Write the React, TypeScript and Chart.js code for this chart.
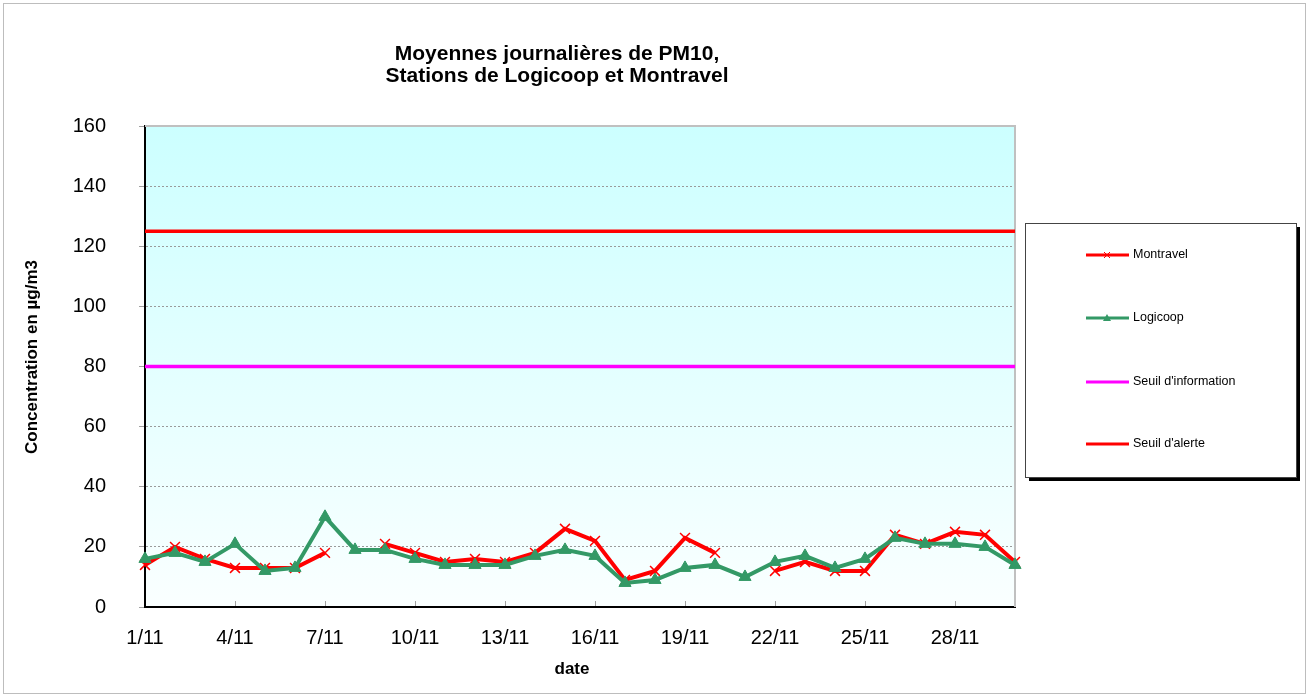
import React, { useEffect, useRef } from 'react';
import { Chart, registerables } from 'chart.js';

Chart.register(...registerables);

const dates = [
  '1/11', '2/11', '3/11', '4/11', '5/11', '6/11', '7/11', '8/11', '9/11', '10/11',
  '11/11', '12/11', '13/11', '14/11', '15/11', '16/11', '17/11', '18/11', '19/11', '20/11',
  '21/11', '22/11', '23/11', '24/11', '25/11', '26/11', '27/11', '28/11', '29/11', '30/11',
];

const montravel = [
  14, 20, 16, 13, 13, 13, 18, null, 21, 18,
  15, 16, 15, 18, 26, 22, 9, 12, 23, 18,
  null, 12, 15, 12, 12, 24, 21, 25, 24, 15,
];

const logicoop = [
  16, 18, 15, 21, 12, 13, 30, 19, 19, 16,
  14, 14, 14, 17, 19, 17, 8, 9, 13, 14,
  10, 15, 17, 13, 16, 23, 21, 21, 20, 14,
];

const seuilInformation = 80;
const seuilAlerte = 125;

const titleLines = ['Moyennes journalières de PM10,', 'Stations de Logicoop et Montravel'];
const yTitle = 'Concentration en µg/m3';
const xTitle = 'date';

const FONT = '"Liberation Sans", Arial, sans-serif';

const decorPlugin = {
  id: 'decor',
  beforeDraw(chart: any) {
    const { ctx, chartArea: a, width, height } = chart;
    ctx.save();
    ctx.fillStyle = '#ffffff';
    ctx.fillRect(0, 0, width, height);
    ctx.strokeStyle = '#bdbdbd';
    ctx.lineWidth = 1;
    ctx.strokeRect(3.5, 3.5, width - 7, height - 7);
    const g = ctx.createLinearGradient(0, a.top, 0, a.bottom);
    g.addColorStop(0, '#CCFFFF');
    g.addColorStop(1, '#FAFFFF');
    ctx.fillStyle = g;
    ctx.fillRect(a.left, a.top, a.right - a.left, a.bottom - a.top);
    ctx.restore();
  },
  beforeDatasetsDraw(chart: any) {
    const { ctx, chartArea: a } = chart;
    const xs = chart.scales.x;
    ctx.save();
    ctx.strokeStyle = '#c0c0c0';
    ctx.lineWidth = 2;
    ctx.beginPath();
    ctx.moveTo(a.left, a.top);
    ctx.lineTo(a.right, a.top);
    ctx.lineTo(a.right, a.bottom);
    ctx.stroke();
    ctx.strokeStyle = '#a0a0a0';
    ctx.lineWidth = 1;
    for (let i = 3; i < dates.length; i += 3) {
      const px = Math.round(xs.getPixelForValue(i)) + 0.5;
      ctx.beginPath();
      ctx.moveTo(px, a.bottom - 1);
      ctx.lineTo(px, a.bottom - 6);
      ctx.stroke();
    }
    ctx.restore();
  },
  afterDraw(chart: any) {
    const { ctx } = chart;
    ctx.save();
    // title
    ctx.fillStyle = '#000';
    ctx.font = `bold 21px ${FONT}`;
    ctx.textAlign = 'center';
    ctx.textBaseline = 'alphabetic';
    ctx.fillText(titleLines[0], 557, 60);
    ctx.fillText(titleLines[1], 557, 82);

    // y axis title
    ctx.save();
    ctx.translate(32, 357);
    ctx.rotate(-Math.PI / 2);
    ctx.font = `bold 17px ${FONT}`;
    ctx.textAlign = 'center';
    ctx.textBaseline = 'middle';
    ctx.fillText(yTitle, 0, 0);
    ctx.restore();

    // x axis title
    ctx.font = `bold 17px ${FONT}`;
    ctx.textAlign = 'center';
    ctx.textBaseline = 'middle';
    ctx.fillText(xTitle, 572, 669);

    // legend
    const bx = 1025, by = 223, bw = 271, bh = 254;
    ctx.fillStyle = '#000';
    ctx.fillRect(bx + 4, by + 4, bw, bh);
    ctx.fillStyle = '#fff';
    ctx.fillRect(bx, by, bw, bh);
    ctx.strokeStyle = '#444';
    ctx.lineWidth = 1;
    ctx.strokeRect(bx + 0.5, by + 0.5, bw, bh);

    const rows = [255, 318, 382, 444];
    const ds = chart.data.datasets;
    ds.forEach((d: any, k: number) => {
      const y = rows[k];
      ctx.strokeStyle = d.borderColor;
      ctx.lineWidth = 3;
      ctx.beginPath();
      ctx.moveTo(1086, y);
      ctx.lineTo(1129, y);
      ctx.stroke();
      const cx = 1107;
      if (d.pointStyle === 'crossRot') {
        ctx.lineWidth = 1;
        ctx.beginPath();
        ctx.moveTo(cx - 3, y - 3);
        ctx.lineTo(cx + 3, y + 3);
        ctx.moveTo(cx + 3, y - 3);
        ctx.lineTo(cx - 3, y + 3);
        ctx.stroke();
      } else if (d.pointStyle === 'triangle') {
        ctx.fillStyle = d.borderColor;
        ctx.beginPath();
        ctx.moveTo(cx, y - 4);
        ctx.lineTo(cx + 4, y + 3);
        ctx.lineTo(cx - 4, y + 3);
        ctx.closePath();
        ctx.fill();
      }
      ctx.fillStyle = '#000';
      ctx.font = `12.5px ${FONT}`;
      ctx.textAlign = 'left';
      ctx.textBaseline = 'middle';
      ctx.fillText(d.label, 1133, y);
    });
    ctx.restore();
  },
};

export default function App() {
  const ref = useRef<HTMLCanvasElement | null>(null);

  useEffect(() => {
    if (!ref.current) return;
    const chart = new Chart(ref.current, {
      type: 'line',
      data: {
        labels: dates,
        datasets: [
          {
            label: 'Montravel',
            data: montravel,
            borderColor: '#FF0000',
            backgroundColor: '#FF0000',
            borderWidth: 4,
            pointStyle: 'crossRot',
            pointRadius: 7,
            pointBorderWidth: 1.5,
            pointBorderColor: '#FF0000',
            spanGaps: false,
            tension: 0,
            order: 1,
          },
          {
            label: 'Logicoop',
            data: logicoop,
            borderColor: '#339966',
            backgroundColor: '#339966',
            borderWidth: 4,
            pointStyle: 'triangle',
            pointRadius: 7,
            pointBorderWidth: 1,
            pointBorderColor: '#339966',
            pointBackgroundColor: '#339966',
            tension: 0,
            order: 0,
          },
          {
            label: "Seuil d'information",
            data: [
              { x: dates[0], y: seuilInformation },
              { x: dates[dates.length - 1], y: seuilInformation },
            ],
            borderColor: '#FF00FF',
            backgroundColor: '#FF00FF',
            borderWidth: 3.5,
            pointRadius: 0,
            order: 2,
          },
          {
            label: "Seuil d'alerte",
            data: [
              { x: dates[0], y: seuilAlerte },
              { x: dates[dates.length - 1], y: seuilAlerte },
            ],
            borderColor: '#FF0000',
            backgroundColor: '#FF0000',
            borderWidth: 3.5,
            pointRadius: 0,
            order: 2,
          },
        ] as any,
      },
      options: {
        animation: false,
        responsive: false,
        devicePixelRatio: 1,
        layout: { padding: { top: 126, right: 294, left: 0, bottom: 0 } },
        plugins: {
          legend: { display: false },
          tooltip: { enabled: false },
          title: { display: false },
        },
        scales: {
          x: {
            type: 'category',
            offset: false,
            grid: { display: true, drawOnChartArea: false, drawTicks: false },
            border: { display: true, color: '#000', width: 2 },
            ticks: {
              autoSkip: false,
              maxRotation: 0,
              padding: 19,
              color: '#000',
              font: { family: FONT, size: 20 },
              callback: (_v: any, i: number) => (i % 3 === 0 ? dates[i] : ''),
            },
            title: { display: false },
            afterFit: (s: any) => {
              s.height = 90;
            },
          },
          y: {
            min: 0,
            max: 160,
            ticks: {
              stepSize: 20,
              padding: 33,
              color: '#000',
              font: { family: FONT, size: 20 },
            },
            grid: {
              color: '#9a9a9a',
              lineWidth: 1,
              drawTicks: true,
              tickLength: 6,
              tickColor: '#a0a0a0',
            },
            border: { display: true, color: '#000', width: 2, dash: [2, 2] },
            title: { display: false },
            afterFit: (s: any) => {
              s.width = 145;
            },
          },
        } as any,
      },
      plugins: [decorPlugin],
    });
    return () => chart.destroy();
  }, []);

  return (
    <div style={{ position: 'absolute', left: 0, top: 0, width: 1309, height: 697 }}>
      <canvas ref={ref} width={1309} height={697} style={{ width: 1309, height: 697 }} />
    </div>
  );
}
